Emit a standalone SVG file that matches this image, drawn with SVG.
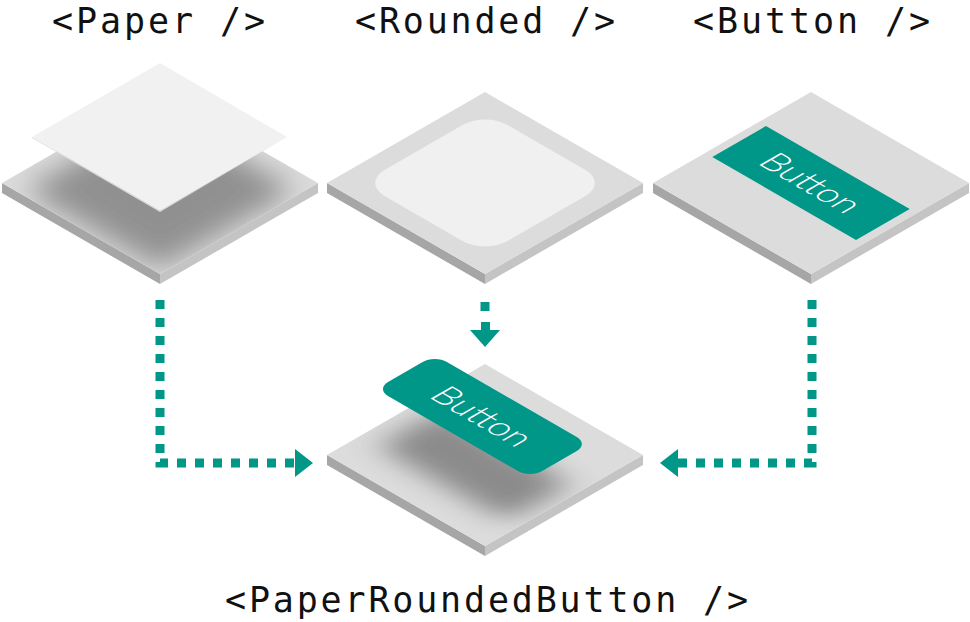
<svg xmlns="http://www.w3.org/2000/svg" width="970" height="622" viewBox="0 0 970 622">
<defs>
<style>
.lbl{font-family:"DejaVu Sans Mono","Liberation Mono",monospace;font-size:35px;fill:#111}
.top{fill:#dcdcdc}.lf{fill:#a6a6a6}.rf{fill:#c4c4c4}
.btn{fill:#009688}
.bt{font-family:Lato,"Open Sans",sans-serif;font-weight:300;font-size:35px;fill:#fff}
.dot{fill:none;stroke:#009688;stroke-width:9;stroke-dasharray:9 9}
.head{fill:#009688}
</style>
<filter id="blur" x="-50%" y="-50%" width="200%" height="200%"><feGaussianBlur stdDeviation="14"/></filter>
<g id="tile">
<polygon class="lf" points="-158,91 0,182 0,192 -158,101"/>
<polygon class="rf" points="0,182 158,91 158,101 0,192"/>
<polygon class="top" points="0,0 158,91 0,182 -158,91"/>
</g>
<clipPath id="topclip"><polygon points="0,0 158,91 0,182 -158,91"/></clipPath>
</defs>

<g id="paper">
<use href="#tile" x="160" y="92"/>
<g transform="translate(160,92)" clip-path="url(#topclip)">
<polygon points="0,20 135,98 0,176 -135,98" fill="#777" opacity="0.75" filter="url(#blur)"/>
</g>
<polygon points="160,63 287,137 160,211 32,137" fill="#f1f1f1"/>
<polygon points="32,137 160,211 287,137 160,212 32,138" fill="#e0e0e0"/>
<text class="lbl" x="52" y="33" textLength="213">&lt;Paper /&gt;</text>
</g>

<g id="rounded">
<use href="#tile" x="485" y="92"/>
<g transform="matrix(0.866,0.5,-0.866,0.5,485,92)">
<rect x="20" y="20" width="142" height="142" rx="26" fill="#f0f0f0"/>
</g>
<text class="lbl" x="355" y="33" textLength="260">&lt;Rounded /&gt;</text>
</g>

<g id="button">
<use href="#tile" x="811" y="92"/>
<g transform="matrix(0.866,0.5,-0.866,0.5,811,92)">
<rect x="8" y="60" width="166" height="62" class="btn"/>
<text class="bt" x="91" y="103" text-anchor="middle">Button</text>
</g>
<text class="lbl" x="693" y="33" textLength="237">&lt;Button /&gt;</text>
</g>

<g id="paperRoundedButton">
<use href="#tile" x="485" y="364"/>
<g transform="translate(485,364)" clip-path="url(#topclip)">
<g transform="matrix(0.866,0.5,-0.866,0.5,0,0)">
<rect x="20" y="70" width="150" height="75" rx="14" fill="#777" opacity="0.8" filter="url(#blur)"/>
</g>
</g>
<g transform="matrix(0.866,0.5,-0.866,0.5,485,326)">
<rect x="0" y="58" width="178" height="68" rx="14" class="btn"/>
<text class="bt" x="89" y="104" text-anchor="middle">Button</text>
</g>
<text class="lbl" x="225" y="612" textLength="523">&lt;PaperRoundedButton /&gt;</text>
</g>

<g id="connectors">
<path class="dot" d="M160,300 V463 H295"/>
<polygon class="head" points="295,449 313,463 295,477"/>
<path class="dot" d="M485,302 V311"/>
<rect class="head" x="481" y="322" width="9" height="8"/>
<polygon class="head" points="470,330 500,330 485,347"/>
<path class="dot" d="M812,300 V463 H678"/>
<polygon class="head" points="678,449 660,463 678,477"/>
</g>
</svg>
